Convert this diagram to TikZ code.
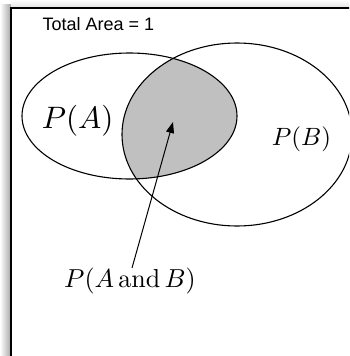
\documentclass[tikz,border=0pt]{standalone}
\usepackage{amsmath}
\usepackage{graphicx}
\usepackage{fontspec}
\newfontfamily\helv{Liberation Sans}
\usetikzlibrary{arrows.meta}
\definecolor{overlap}{RGB}{192,192,192}
\tikzset{
  venn/.style={line width=1.1pt, draw=black},
  lbl/.style={inner sep=0pt, anchor=base west},
  pointer/.style={line width=1pt, -{Triangle[length=11pt,width=8pt]}}
}
\begin{document}
\begin{tikzpicture}[x=1pt,y=-1pt]
\useasboundingbox (0,0) rectangle (349,356);
\clip (0,0) rectangle (349,356);
% shadow
\shade[left color=white, right color=black!35] (0,4) rectangle (11,356);
\shade[top color=white, bottom color=black!12] (11,0) rectangle (349,8);
\fill[white] (11,8) rectangle (349,356);
% frame
\draw[line width=1.5pt] (11,370) -- (11,8) -- (370,8);
% overlap
\begin{scope}
  \clip (129.5,116) ellipse [x radius=107.5, y radius=63];
  \fill[overlap] (237,134.5) ellipse [x radius=115, y radius=91.5];
\end{scope}
\draw[venn] (129.5,116) ellipse [x radius=107.5, y radius=63];
\draw[venn] (237,134.5) ellipse [x radius=115, y radius=91.5];
% labels
\node[lbl] (total) at (42.5,30.7) {\helv\fontsize{18}{21}\selectfont Total Area = 1};
\node[lbl] (pa) at (41.7,128) {\scalebox{3.1}{$P(A)$}};
\node[lbl] (pb) at (271.7,145.5) {\scalebox{2.5}{$P(B)$}};
\node[lbl] (pab) at (64,287.5) {\scalebox{2.6}{$P(A\,\mathrm{and}\,B)$}};
\coordinate (tip) at (173,122);
\coordinate (tail) at (132,268);
\draw[pointer] (tail) -- (tip);
\end{tikzpicture}
\end{document}
